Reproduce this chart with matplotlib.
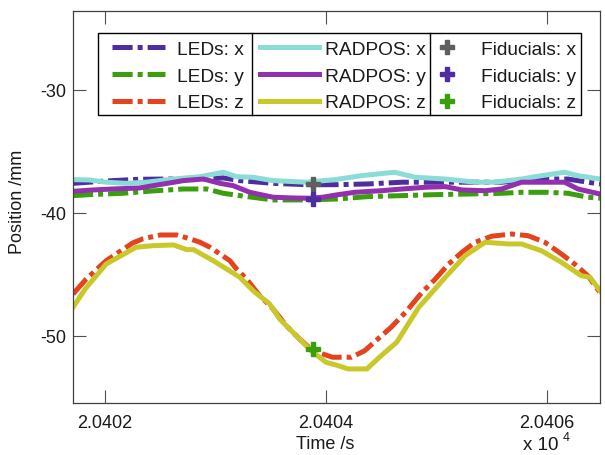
import numpy as np
import matplotlib
matplotlib.use("Agg")
import matplotlib.pyplot as plt
from matplotlib.ticker import FuncFormatter, FixedLocator
from matplotlib.patches import Rectangle
from matplotlib.lines import Line2D

plt.rcParams["font.family"] = ["Liberation Sans", "DejaVu Sans"]
plt.rcParams["lines.scale_dashes"] = False

####################### DATA #######################
# LEDs tracking
leds_x_t = [20401.71, 20402.01, 20402.31, 20402.62, 20402.91, 20403.07, 20403.22, 20403.52,
            20403.82, 20404.11, 20404.38, 20404.69, 20404.99, 20405.29, 20405.59, 20405.77,
            20405.95, 20406.19, 20406.37, 20406.48]
leds_x = [-37.59, -37.40, -37.26, -37.24, -37.24, -37.15, -37.37, -37.59,
          -37.70, -37.70, -37.64, -37.50, -37.50, -37.50, -37.50, -37.37,
          -37.24, -37.24, -37.50, -37.64]

leds_y_t = [20401.71, 20401.86, 20402.16, 20402.46, 20402.71, 20402.92, 20403.07, 20403.22,
            20403.52, 20403.82, 20404.11, 20404.38, 20404.69, 20404.99, 20405.29, 20405.59,
            20405.77, 20406.01, 20406.19, 20406.37, 20406.48]
leds_y = [-38.59, -38.51, -38.40, -38.19, -38.05, -38.05, -38.40, -38.59,
          -38.94, -38.94, -38.86, -38.67, -38.59, -38.51, -38.46, -38.40,
          -38.32, -38.32, -38.40, -38.72, -38.80]

leds_z_t = [20401.71, 20401.83, 20402.01, 20402.25, 20402.34, 20402.50, 20402.65, 20402.77,
            20402.86, 20402.95, 20403.04, 20403.13, 20403.19, 20403.28, 20403.40, 20403.52,
            20403.64, 20403.76, 20403.88, 20404.06, 20404.23, 20404.35, 20404.47, 20404.59,
            20404.72, 20404.87, 20404.99, 20405.11, 20405.23, 20405.35, 20405.50, 20405.68,
            20405.83, 20405.98, 20406.13, 20406.25, 20406.37, 20406.48]
leds_z = [-46.59, -45.37, -43.88, -42.44, -42.11, -41.79, -41.79, -42.11,
          -42.38, -42.79, -43.33, -43.88, -44.55, -45.37, -46.72, -47.80,
          -49.16, -50.24, -51.20, -51.73, -51.73, -51.20, -50.24, -49.29,
          -48.07, -46.45, -45.37, -44.15, -43.20, -42.38, -41.89, -41.71,
          -41.85, -42.38, -43.33, -44.15, -45.10, -46.46]

# RADPOS tracking
radpos_x_t = [20401.71, 20401.86, 20402.01, 20402.19, 20402.37, 20402.62, 20402.86, 20403.07,
              20403.19, 20403.34, 20403.52, 20403.82, 20404.08, 20404.32, 20404.62, 20404.81,
              20405.08, 20405.35, 20405.53, 20405.77, 20405.95, 20406.16, 20406.28, 20406.48]
radpos_x = [-37.29, -37.32, -37.50, -37.59, -37.50, -37.24, -37.05, -36.69,
            -37.05, -37.10, -37.37, -37.50, -37.29, -36.97, -36.69, -37.10,
            -37.24, -37.50, -37.50, -37.24, -36.97, -36.69, -36.97, -37.24]

radpos_y_t = [20401.71, 20401.89, 20402.07, 20402.31, 20402.53, 20402.71, 20402.89, 20403.04,
              20403.16, 20403.31, 20403.52, 20403.70, 20403.85, 20403.97, 20404.11, 20404.26,
              20404.50, 20404.69, 20404.90, 20405.08, 20405.23, 20405.44, 20405.59, 20405.77,
              20405.95, 20406.16, 20406.28, 20406.48]
radpos_y = [-38.24, -38.13, -38.05, -37.97, -37.64, -37.37, -37.24, -37.59,
            -37.78, -38.32, -38.72, -38.78, -38.80, -38.72, -38.51, -38.32,
            -38.19, -38.05, -37.91, -37.86, -38.13, -38.19, -38.05, -37.50,
            -37.50, -37.50, -38.05, -38.46]

radpos_z_t = [20401.71, 20401.82, 20402.01, 20402.28, 20402.43, 20402.62, 20402.74, 20402.80,
              20402.98, 20403.22, 20403.34, 20403.49, 20403.58, 20403.70, 20403.82, 20403.88,
              20404.00, 20404.11, 20404.20, 20404.37, 20404.50, 20404.64, 20404.84, 20405.08,
              20405.26, 20405.44, 20405.65, 20405.77, 20405.95, 20406.13, 20406.31, 20406.39,
              20406.48]
radpos_z = [-47.67, -46.18, -44.15, -42.79, -42.66, -42.60, -42.98, -42.98,
            -43.88, -45.23, -46.32, -47.40, -48.62, -49.70, -50.79, -51.30,
            -52.14, -52.41, -52.68, -52.68, -51.60, -50.51, -47.67, -45.23,
            -43.47, -42.38, -42.52, -42.52, -43.07, -44.01, -45.10, -45.23,
            -46.32]

# Fiducials (single time point)
fid_t = [20403.88]
fid_x = [-37.64]
fid_y = [-38.86]
fid_z = [-51.10]

x_ticks = [20402, 20404, 20406]
y_ticks = [-50, -40, -30]

####################### PLOTTING #######################
W, H = 605, 456
fig = plt.figure(figsize=(W / 100, H / 100), dpi=100)
ax = fig.add_axes([73 / W, 1 - 404 / H, (600 - 73) / W, (404 - 12) / H])

dashdot = (0, (14.5, 3.6, 3.6, 3.6))
lw = 3.6

h1, = ax.plot(leds_x_t, leds_x, color="#4f2d9e", lw=lw, ls=dashdot, label="LEDs: x")
h2, = ax.plot(leds_y_t, leds_y, color="#3a9f0c", lw=lw, ls=dashdot, label="LEDs: y")
h3, = ax.plot(leds_z_t, leds_z, color="#e5431f", lw=lw, ls=dashdot, label="LEDs: z")
h4, = ax.plot(radpos_x_t, radpos_x, color="#8adcd6", lw=lw, label="RADPOS: x")
h5, = ax.plot(radpos_y_t, radpos_y, color="#9330b0", lw=lw, label="RADPOS: y")
h6, = ax.plot(radpos_z_t, radpos_z, color="#c9c82a", lw=lw, label="RADPOS: z")
h7, = ax.plot(fid_t, fid_x, ls="none", marker="P", ms=10, color="#5f5f5f", label="Fiducials: x")
h8, = ax.plot(fid_t, fid_y, ls="none", marker="P", ms=10, color="#4f2d9e", label="Fiducials: y")
h9, = ax.plot(fid_t, fid_z, ls="none", marker="P", ms=10, color="#3a9f0c", label="Fiducials: z")

ax.set_xlim(20401.71, 20406.48)
ax.set_ylim(-55.45, -23.58)
ax.xaxis.set_major_locator(FixedLocator(x_ticks))
ax.yaxis.set_major_locator(FixedLocator(y_ticks))
ax.xaxis.set_major_formatter(FuncFormatter(lambda v, p: "%.4f" % (v / 1e4)))
ax.yaxis.set_major_formatter(FuncFormatter(lambda v, p: "%d" % v))
ax.tick_params(direction="in", length=9.5, width=0.8, color="#505050",
               top=True, right=True, labelsize=13, labelcolor="#1a1a1a")
ax.tick_params(axis="x", pad=8)
ax.tick_params(axis="y", pad=5)
for s in ax.spines.values():
    s.set_color("#404040")
    s.set_linewidth(0.9)

# axis labels + multiplier, placed like the original
fig.text(325 / W, 1 - 445 / H, "Time /s", ha="center", va="center", fontsize=13, color="#1a1a1a")
fig.text(18 / W, 1 - 202 / H, "Position /mm", ha="center", va="center", rotation=90,
         fontsize=13, color="#1a1a1a")
fig.text(523 / W, 1 - 446 / H, "x 10", ha="left", va="center", fontsize=13.5, color="#1a1a1a")
fig.text(563 / W, 1 - 438.5 / H, "4", ha="left", va="center", fontsize=9, color="#1a1a1a")

# legend box with two column dividers (drawn by hand, MATLAB columnlegend look)
fig.patches.append(Rectangle((98 / W, 1 - 116 / H), (581 - 98) / W, (116 - 34) / H,
                             transform=fig.transFigure, fill=True, facecolor="white",
                             edgecolor="black", lw=1.0, zorder=5))
for xd in (252, 430):
    fig.lines.append(Line2D([xd / W, xd / W], [1 - 116 / H, 1 - 34 / H],
                            transform=fig.transFigure, color="black", lw=1.0, zorder=6))

# three legend columns: handles, start x of handle, handle length, text pad
cols = [([h1, h2, h3], 112, 2.76, 0.63),
        ([h4, h5, h6], 260, 3.08, 0.30),
        ([h7, h8, h9], 436, 1.15, 1.20)]
for hs, x0, hl, tp in cols:
    leg = fig.legend(handles=hs, loc="center left", bbox_to_anchor=(x0 / W, 1 - 77 / H),
                     borderaxespad=0, borderpad=0, fontsize=13.8, handlelength=hl,
                     handletextpad=tp, labelspacing=0.48, frameon=False)
    leg.set_zorder(7)
    for t in leg.get_texts():
        t.set_color("#1a1a1a")

fig.savefig("out.png", dpi=100)
